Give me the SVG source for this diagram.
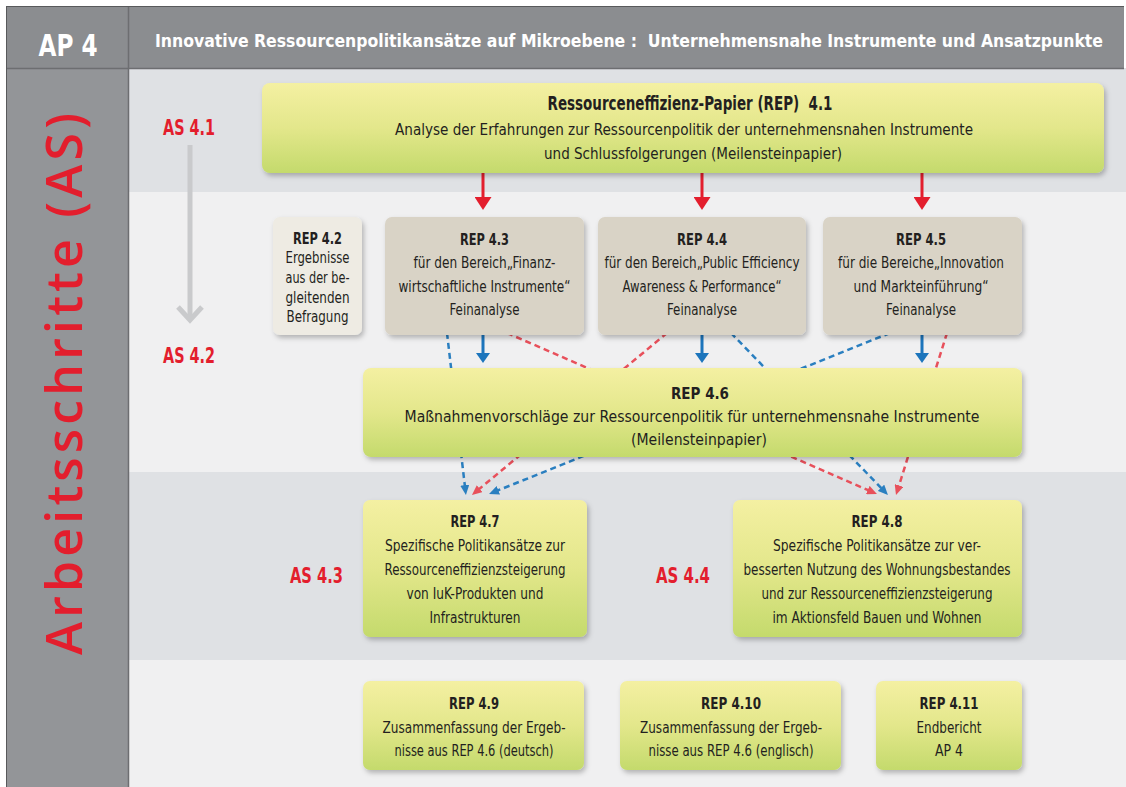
<svg xmlns="http://www.w3.org/2000/svg" width="1126" height="787" viewBox="0 0 1126 787">
<defs>
<style>
.t{font-family:'Liberation Sans Narrow','DejaVu Sans Condensed','Liberation Sans',sans-serif;fill:#231f20;text-anchor:middle;font-size:16.5px}
.b{font-weight:bold}
.big{font-size:19px}
.as{font-family:'Liberation Sans Narrow','DejaVu Sans Condensed','Liberation Sans',sans-serif;font-weight:bold;font-size:22px;fill:#e31e2d}
.hd{font-family:'Liberation Sans Narrow','DejaVu Sans Condensed','Liberation Sans',sans-serif;font-weight:bold;fill:#ffffff}
.g{fill:url(#gy);filter:url(#sh)}
.be{fill:#d9d3c6;filter:url(#sh)}
.be2{fill:#eeebe3;filter:url(#sh)}
.rs{stroke:#e31e2d;stroke-width:3;fill:none}
.bs{stroke:#1c75bc;stroke-width:3;fill:none}
.rd{stroke:#e8505b;stroke-width:2.5;stroke-dasharray:6 4;fill:none}
.bd{stroke:#2a7fc0;stroke-width:2.5;stroke-dasharray:6 4;fill:none}
</style>
<linearGradient id="gy" x1="0" y1="0" x2="0" y2="1">
<stop offset="0" stop-color="#f4f0a2"/>
<stop offset="0.5" stop-color="#e3e78b"/>
<stop offset="1" stop-color="#c4da6c"/>
</linearGradient>
<filter id="sh" x="-10%" y="-10%" width="130%" height="140%">
<feDropShadow dx="2" dy="3" stdDeviation="2.5" flood-color="#000" flood-opacity="0.25"/>
</filter>
<marker id="mr" markerUnits="userSpaceOnUse" viewBox="0 0 13 17" markerWidth="13" markerHeight="17" refX="3" refY="8.5" orient="auto"><path d="M0,0 L13,8.5 L0,17 Z" fill="#e31e2d"/></marker>
<marker id="mb" markerUnits="userSpaceOnUse" viewBox="0 0 10 14" markerWidth="10" markerHeight="14" refX="2" refY="7" orient="auto"><path d="M0,0 L10,7 L0,14 Z" fill="#1c75bc"/></marker>
<marker id="mrd" markerUnits="userSpaceOnUse" viewBox="0 0 10 9" markerWidth="10" markerHeight="9" refX="1" refY="4.5" orient="auto"><path d="M0,0 L10,4.5 L0,9 Z" fill="#e8505b"/></marker>
<marker id="mbd" markerUnits="userSpaceOnUse" viewBox="0 0 10 9" markerWidth="10" markerHeight="9" refX="1" refY="4.5" orient="auto"><path d="M0,0 L10,4.5 L0,9 Z" fill="#2a7fc0"/></marker>
</defs>

<g id="background">
<rect x="0" y="0" width="1126" height="787" fill="#ffffff"/>
<rect x="128" y="68" width="998" height="124" fill="#dfe1e4"/>
<rect x="128" y="192" width="998" height="280" fill="#f0f0f1"/>
<rect x="128" y="472" width="998" height="188" fill="#dfe1e4"/>
<rect x="128" y="660" width="998" height="127" fill="#f0f0f1"/>
<rect x="6" y="6" width="1118" height="62" fill="#8b8d90"/>
<rect x="6" y="68" width="122" height="719" fill="#939598"/>
<line x1="6" y1="68.5" x2="1124" y2="68.5" stroke="#6d6e71" stroke-width="1.5"/>
<line x1="128.5" y1="6" x2="128.5" y2="787" stroke="#6d6e71" stroke-width="1.5"/>
<line x1="6" y1="6.5" x2="1124" y2="6.5" stroke="#58595b" stroke-width="1"/>
<line x1="6.5" y1="6" x2="6.5" y2="787" stroke="#58595b" stroke-width="1"/>
</g>

<g id="header">
<text class="hd" x="68" y="56" font-size="30" text-anchor="middle" textLength="59" lengthAdjust="spacingAndGlyphs">AP 4</text>
<text class="hd" x="155" y="47" font-size="17.5" textLength="948" lengthAdjust="spacingAndGlyphs" xml:space="preserve">Innovative Ressourcenpolitikansätze auf Mikroebene :  Unternehmensnahe Instrumente und Ansatzpunkte</text>
</g>

<g id="side-label">
<text transform="translate(82,384) rotate(-90)" x="0" y="0" font-family="'Open Sans','DejaVu Sans',sans-serif" font-weight="600" font-size="50" fill="#e31e2d" text-anchor="middle" textLength="542" lengthAdjust="spacing">Arbeitsschritte (AS)</text>
</g>

<g id="steps">
<text class="as" x="163" y="135" textLength="52" lengthAdjust="spacingAndGlyphs">AS 4.1</text>
<text class="as" x="163" y="363" textLength="52" lengthAdjust="spacingAndGlyphs">AS 4.2</text>
<text class="as" x="290" y="583" textLength="53" lengthAdjust="spacingAndGlyphs">AS 4.3</text>
<text class="as" x="656" y="583" textLength="54" lengthAdjust="spacingAndGlyphs">AS 4.4</text>
<line x1="190" y1="145" x2="190" y2="320" stroke="#c9cacc" stroke-width="5"/>
<polyline points="178,307 190,320 202,307" fill="none" stroke="#c9cacc" stroke-width="5"/>
</g>

<g id="connectors">
<line class="rs" x1="483" y1="173" x2="483" y2="200" marker-end="url(#mr)"/>
<line class="rs" x1="702" y1="173" x2="702" y2="200" marker-end="url(#mr)"/>
<line class="rs" x1="922" y1="173" x2="922" y2="200" marker-end="url(#mr)"/>
<line class="bs" x1="483" y1="335" x2="483" y2="355" marker-end="url(#mb)"/>
<line class="bs" x1="702" y1="335" x2="702" y2="355" marker-end="url(#mb)"/>
<line class="bs" x1="922" y1="335" x2="922" y2="355" marker-end="url(#mb)"/>
<line class="bd" x1="447" y1="333" x2="464.9" y2="486.1" marker-end="url(#mbd)"/>
<line class="rd" x1="667" y1="333" x2="478.9" y2="489.3" marker-end="url(#mrd)"/>
<line class="bd" x1="890" y1="333" x2="497.4" y2="490.6" marker-end="url(#mbd)"/>
<line class="rd" x1="507" y1="333" x2="868.7" y2="490.4" marker-end="url(#mrd)"/>
<line class="bd" x1="731" y1="333" x2="881.7" y2="488.5" marker-end="url(#mbd)"/>
<line class="rd" x1="947" y1="333" x2="898.7" y2="486.4" marker-end="url(#mrd)"/>
</g>

<g id="rep41">
<rect class="g" x="262" y="83" width="842" height="90" rx="8"/>
<text class="t b big" x="690" y="110" textLength="285" lengthAdjust="spacingAndGlyphs" xml:space="preserve">Ressourceneffizienz-Papier (REP)  4.1</text>
<text class="t" x="684" y="135" font-size="18.5" textLength="578" lengthAdjust="spacingAndGlyphs">Analyse der Erfahrungen zur Ressourcenpolitik der unternehmensnahen Instrumente</text>
<text class="t" x="693" y="159" font-size="18.5" textLength="298" lengthAdjust="spacingAndGlyphs">und Schlussfolgerungen (Meilensteinpapier)</text>
</g>

<g id="rep42">
<rect class="be2" x="273" y="217" width="89" height="118" rx="7"/>
<text class="t b" x="317.5" y="244" textLength="49" lengthAdjust="spacingAndGlyphs">REP 4.2</text>
<text class="t" x="317.5" y="263" textLength="64" lengthAdjust="spacingAndGlyphs">Ergebnisse</text>
<text class="t" x="317.5" y="283" textLength="64" lengthAdjust="spacingAndGlyphs">aus der be-</text>
<text class="t" x="317.5" y="303" textLength="64" lengthAdjust="spacingAndGlyphs">gleitenden</text>
<text class="t" x="317.5" y="322" textLength="62" lengthAdjust="spacingAndGlyphs">Befragung</text>
</g>

<g id="rep43">
<rect class="be" x="385" y="217" width="199" height="118" rx="7"/>
<text class="t b" x="484.5" y="245" textLength="49" lengthAdjust="spacingAndGlyphs">REP 4.3</text>
<text class="t" x="484.5" y="268" textLength="142" lengthAdjust="spacingAndGlyphs">für den Bereich„Finanz-</text>
<text class="t" x="484.5" y="292" textLength="172" lengthAdjust="spacingAndGlyphs">wirtschaftliche Instrumente“</text>
<text class="t" x="484.5" y="315" textLength="70" lengthAdjust="spacingAndGlyphs">Feinanalyse</text>
</g>

<g id="rep44">
<rect class="be" x="598" y="217" width="208" height="118" rx="7"/>
<text class="t b" x="702" y="245" textLength="50" lengthAdjust="spacingAndGlyphs">REP 4.4</text>
<text class="t" x="702" y="268" textLength="195" lengthAdjust="spacingAndGlyphs">für den Bereich„Public Efficiency</text>
<text class="t" x="702" y="292" textLength="159" lengthAdjust="spacingAndGlyphs">Awareness &amp; Performance“</text>
<text class="t" x="702" y="315" textLength="70" lengthAdjust="spacingAndGlyphs">Feinanalyse</text>
</g>

<g id="rep45">
<rect class="be" x="823" y="217" width="199" height="118" rx="7"/>
<text class="t b" x="921" y="245" textLength="50" lengthAdjust="spacingAndGlyphs">REP 4.5</text>
<text class="t" x="921" y="268" textLength="166" lengthAdjust="spacingAndGlyphs">für die Bereiche„Innovation</text>
<text class="t" x="921" y="292" textLength="135" lengthAdjust="spacingAndGlyphs">und Markteinführung“</text>
<text class="t" x="921" y="315" textLength="70" lengthAdjust="spacingAndGlyphs">Feinanalyse</text>
</g>

<g id="rep46">
<rect class="g" x="363" y="368" width="659" height="89" rx="8"/>
<text class="t b" x="700" y="399" font-size="20" textLength="58" lengthAdjust="spacingAndGlyphs">REP 4.6</text>
<text class="t" x="692" y="422" font-size="19" textLength="575" lengthAdjust="spacingAndGlyphs">Maßnahmenvorschläge zur Ressourcenpolitik für unternehmensnahe Instrumente</text>
<text class="t" x="699" y="445" font-size="19" textLength="136" lengthAdjust="spacingAndGlyphs">(Meilensteinpapier)</text>
</g>

<g id="rep47">
<rect class="g" x="363" y="500" width="224" height="137" rx="7"/>
<text class="t b" x="475" y="527" textLength="49" lengthAdjust="spacingAndGlyphs">REP 4.7</text>
<text class="t" x="475" y="551" textLength="180" lengthAdjust="spacingAndGlyphs">Spezifische Politikansätze zur</text>
<text class="t" x="475" y="575" textLength="181" lengthAdjust="spacingAndGlyphs">Ressourceneffizienzsteigerung</text>
<text class="t" x="475" y="599" textLength="137" lengthAdjust="spacingAndGlyphs">von IuK-Produkten und</text>
<text class="t" x="475" y="623" textLength="91" lengthAdjust="spacingAndGlyphs">Infrastrukturen</text>
</g>

<g id="rep48">
<rect class="g" x="733" y="500" width="289" height="137" rx="7"/>
<text class="t b" x="877" y="527" textLength="51" lengthAdjust="spacingAndGlyphs">REP 4.8</text>
<text class="t" x="877" y="551" textLength="208" lengthAdjust="spacingAndGlyphs">Spezifische Politikansätze zur ver-</text>
<text class="t" x="877" y="575" textLength="267" lengthAdjust="spacingAndGlyphs">besserten Nutzung des Wohnungsbestandes</text>
<text class="t" x="877" y="599" textLength="231" lengthAdjust="spacingAndGlyphs">und zur Ressourceneffizienzsteigerung</text>
<text class="t" x="877" y="623" textLength="209" lengthAdjust="spacingAndGlyphs">im Aktionsfeld Bauen und Wohnen</text>
</g>

<g id="rep49">
<rect class="g" x="363" y="681" width="221" height="89" rx="7"/>
<text class="t b" x="474" y="709" textLength="50" lengthAdjust="spacingAndGlyphs">REP 4.9</text>
<text class="t" x="474" y="733" textLength="183" lengthAdjust="spacingAndGlyphs">Zusammenfassung der Ergeb-</text>
<text class="t" x="474" y="756" textLength="159" lengthAdjust="spacingAndGlyphs">nisse aus REP 4.6 (deutsch)</text>
</g>

<g id="rep410">
<rect class="g" x="620" y="681" width="221" height="89" rx="7"/>
<text class="t b" x="731" y="709" textLength="60" lengthAdjust="spacingAndGlyphs">REP 4.10</text>
<text class="t" x="731" y="733" textLength="182" lengthAdjust="spacingAndGlyphs">Zusammenfassung der Ergeb-</text>
<text class="t" x="731" y="756" textLength="165" lengthAdjust="spacingAndGlyphs">nisse aus REP 4.6 (englisch)</text>
</g>

<g id="rep411">
<rect class="g" x="876" y="681" width="146" height="89" rx="7"/>
<text class="t b" x="949" y="709" textLength="59" lengthAdjust="spacingAndGlyphs">REP 4.11</text>
<text class="t" x="949" y="733" textLength="65" lengthAdjust="spacingAndGlyphs">Endbericht</text>
<text class="t" x="949" y="756" textLength="28" lengthAdjust="spacingAndGlyphs">AP 4</text>
</g>
</svg>
